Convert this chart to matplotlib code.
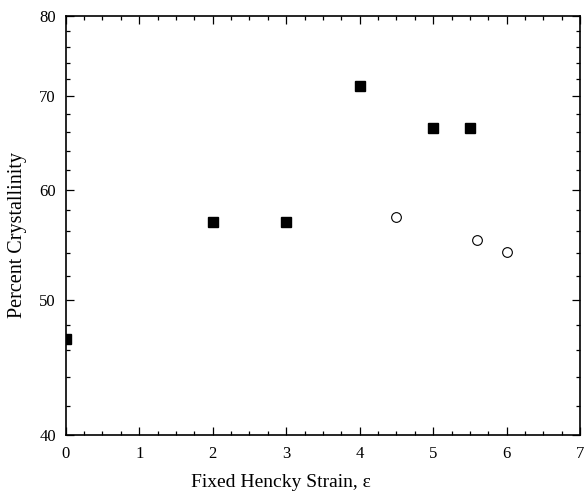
import matplotlib
matplotlib.use("Agg")
import matplotlib.pyplot as plt
from matplotlib.ticker import FixedLocator, FixedFormatter, MultipleLocator, NullFormatter

filled_x = [0.0, 2.0, 3.0, 4.0, 5.0, 5.5]
filled_y = [46.9, 56.9, 56.9, 71.2, 66.5, 66.5]
open_x = [4.5, 5.6, 6.0]
open_y = [57.4, 55.2, 54.1]

y_major = [40, 50, 60, 70, 80]
y_minor = [42, 44, 46, 48, 52, 54, 56, 58, 62, 64, 66, 68, 72, 74, 76, 78]

plt.rcParams['font.family'] = ['Liberation Serif', 'DejaVu Serif']

fig = plt.figure(figsize=(5.86, 4.94), dpi=100)
ax = fig.add_axes([0.1121, 0.1194, 0.8779, 0.8488])

ax.plot(filled_x, filled_y, linestyle='none', marker='s', markersize=6.7,
        markerfacecolor='black', markeredgecolor='black')
ax.plot(open_x, open_y, linestyle='none', marker='o', markersize=7,
        markerfacecolor='white', markeredgecolor='black', markeredgewidth=0.8)

ax.set_yscale('log')
ax.set_xlim(0, 7)
ax.set_ylim(40, 80)
ax.yaxis.set_major_locator(FixedLocator(y_major))
ax.yaxis.set_major_formatter(FixedFormatter([str(v) for v in y_major]))
ax.yaxis.set_minor_locator(FixedLocator(y_minor))
ax.yaxis.set_minor_formatter(NullFormatter())
ax.xaxis.set_major_locator(MultipleLocator(1))
ax.xaxis.set_minor_locator(MultipleLocator(0.25))

ax.tick_params(which='both', direction='in', top=True, right=True, labelsize=12, width=0.9)
ax.tick_params(which='major', length=6)
ax.tick_params(which='minor', length=3)
ax.tick_params(axis='x', pad=8)
ax.tick_params(axis='y', pad=7)
for s in ax.spines.values():
    s.set_linewidth(1.2)

ax.set_xlabel('Fixed Hencky Strain, ε', fontsize=14)
ax.set_ylabel('Percent Crystallinity', fontsize=14.5)
ax.xaxis.set_label_coords(0.419, -0.093)
ax.yaxis.set_label_coords(-0.075, 0.477)

fig.savefig('out.png', dpi=100)
